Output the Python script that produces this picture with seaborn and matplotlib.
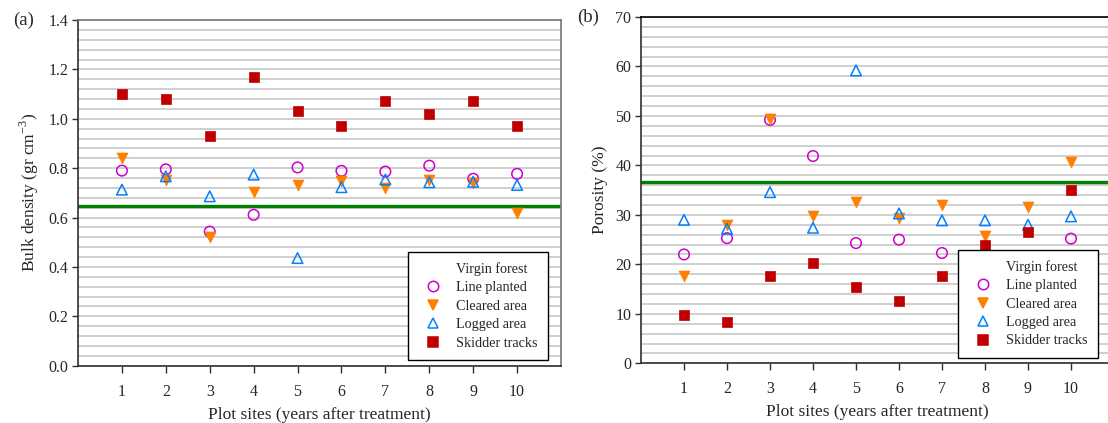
import matplotlib
matplotlib.use("Agg")
import matplotlib.pyplot as plt
from matplotlib.lines import Line2D
import numpy as np
import pandas as pd
import seaborn as sns

# plot sites (years after treatment)
sites = [1, 2, 3, 4, 5, 6, 7, 8, 9, 10]

# (a) bulk density, gr cm-3
bd_virgin = 0.646
bd_line = [0.79, 0.795, 0.543, 0.611, 0.803, 0.789, 0.786, 0.81, 0.757, 0.777]
bd_cleared = [0.84, 0.754, 0.523, 0.702, 0.731, 0.75, 0.72, 0.753, 0.74, 0.62]
bd_logged = [0.713, 0.767, 0.686, 0.774, 0.436, 0.723, 0.754, 0.743, 0.745, 0.732]
bd_skidder = [1.10, 1.08, 0.93, 1.17, 1.03, 0.97, 1.07, 1.02, 1.07, 0.97]

# (b) porosity, %
po_virgin = 36.6
po_line = [22.0, 25.3, 49.2, 41.9, 24.3, 25.0, 22.3, 22.0, 21.0, 25.2]
po_cleared = [17.6, 28.0, 49.3, 29.8, 32.7, 29.3, 32.0, 25.7, 31.6, 40.6]
po_logged = [29.0, 27.2, 34.6, 27.4, 59.2, 30.3, 28.9, 28.9, 28.0, 29.7]
po_skidder = [9.8, 8.4, 17.7, 20.3, 15.5, 12.6, 17.7, 24.0, 26.6, 35.0]

series = ["Line planted", "Cleared area", "Logged area", "Skidder tracks"]
colors = {"Line planted": "#cc00cc", "Cleared area": "#ff8000",
          "Logged area": "#0080ff", "Skidder tracks": "#c00000"}
markers = {"Line planted": "o", "Cleared area": "v",
           "Logged area": "^", "Skidder tracks": "s"}
filled = {"Line planted": False, "Cleared area": True,
          "Logged area": False, "Skidder tracks": True}
green = "#008000"

sns.set_theme(style="white")
plt.rcParams["font.family"] = ["Liberation Serif", "DejaVu Serif"]
plt.rcParams["mathtext.fontset"] = "custom"
plt.rcParams["mathtext.rm"] = "Liberation Serif"


def long_frame(vals):
    rows = []
    for name, v in zip(series, vals):
        for s, y in zip(sites, v):
            rows.append({"site": s, "value": y, "treatment": name})
    return pd.DataFrame(rows)


def draw(ax, df, virgin, ymax, step, ylabel, tag, leg_anchor):
    ax.axhline(virgin, color=green, lw=2.4, zorder=2)
    for name in series:
        d = df[df.treatment == name]
        c = colors[name]
        if filled[name]:
            sns.scatterplot(data=d, x="site", y="value", ax=ax, marker=markers[name],
                            color=c, edgecolor=c, s=62, linewidth=0.5, zorder=3, legend=False)
        else:
            sns.scatterplot(data=d, x="site", y="value", ax=ax, marker=markers[name],
                            facecolor="none", edgecolor=c, s=58, linewidth=1.1, zorder=3,
                            legend=False)
    ax.set_xlim(0, 11)
    ax.set_ylim(0, ymax)
    ax.set_xticks(sites)
    ax.set_xticklabels([str(s) for s in sites])
    ax.set_yticks(np.arange(0, ymax + step / 2, step * 5))
    ax.set_yticks(np.arange(0, ymax + step / 2, step), minor=True)
    ax.yaxis.grid(True, which="both", color="#cccccc", lw=1.3, zorder=0)
    ax.xaxis.grid(False)
    ax.set_axisbelow(True)
    ax.tick_params(axis="x", which="major", bottom=True, direction="out", length=5,
                   width=1, color="#303030", pad=8, labelsize=11.5)
    ax.tick_params(axis="y", which="major", left=True, direction="out", length=4,
                   width=1, color="#303030", pad=3, labelsize=11.5)
    ax.tick_params(axis="y", which="minor", left=False)
    for side in ["left", "bottom"]:
        ax.spines[side].set_color("#303030")
        ax.spines[side].set_linewidth(1.2)
    for side in ["top", "right"]:
        ax.spines[side].set_color("#777777")
        ax.spines[side].set_linewidth(1.2)
    ax.set_xlabel("Plot sites (years after treatment)", fontsize=12.5, labelpad=5)
    ax.set_ylabel(ylabel, fontsize=12.5, labelpad=5)

    handles = [Line2D([], [], linestyle="none", marker=None)]
    labels = ["Virgin forest"]
    for name in series:
        c = colors[name]
        handles.append(Line2D([], [], linestyle="none", marker=markers[name], markersize=7.5,
                              markerfacecolor=c if filled[name] else "none",
                              markeredgecolor=c, markeredgewidth=1.1))
        labels.append(name)
    leg = ax.legend(handles, labels, loc="lower right", bbox_to_anchor=leg_anchor,
                    borderaxespad=0, fontsize=10.2, frameon=True, fancybox=False,
                    framealpha=1, edgecolor="black", handletextpad=0.6,
                    labelspacing=0.38, borderpad=0.75, handlelength=2.0)
    leg.get_frame().set_linewidth(1.0)
    leg.set_zorder(5)
    ax.text(-0.135, 1.0, tag, transform=ax.transAxes, fontsize=13.5, va="center", ha="left")


fig = plt.figure(figsize=(11.08, 4.23), dpi=100)
ax1 = fig.add_axes([78 / 1108, 1 - 365.7 / 423, 483 / 1108, 345.7 / 423])
ax2 = fig.add_axes([641 / 1108, 1 - 363.3 / 423, 473 / 1108, 346.3 / 423])

draw(ax1, long_frame([bd_line, bd_cleared, bd_logged, bd_skidder]), bd_virgin,
     1.4, 0.04, "Bulk density (gr cm$^{-3}$)", "(a)", (0.973, 0.016))
draw(ax2, long_frame([po_line, po_cleared, po_logged, po_skidder]), po_virgin,
     70, 2, "Porosity (%)", "(b)", (0.966, 0.015))
ax1.set_yticklabels([f"{v:.1f}" for v in np.arange(0, 1.41, 0.2)])
ax2.set_yticklabels([f"{v:.0f}" for v in np.arange(0, 71, 10)])
ax2.spines["top"].set_color("black")

fig.savefig("out.png", dpi=100)
